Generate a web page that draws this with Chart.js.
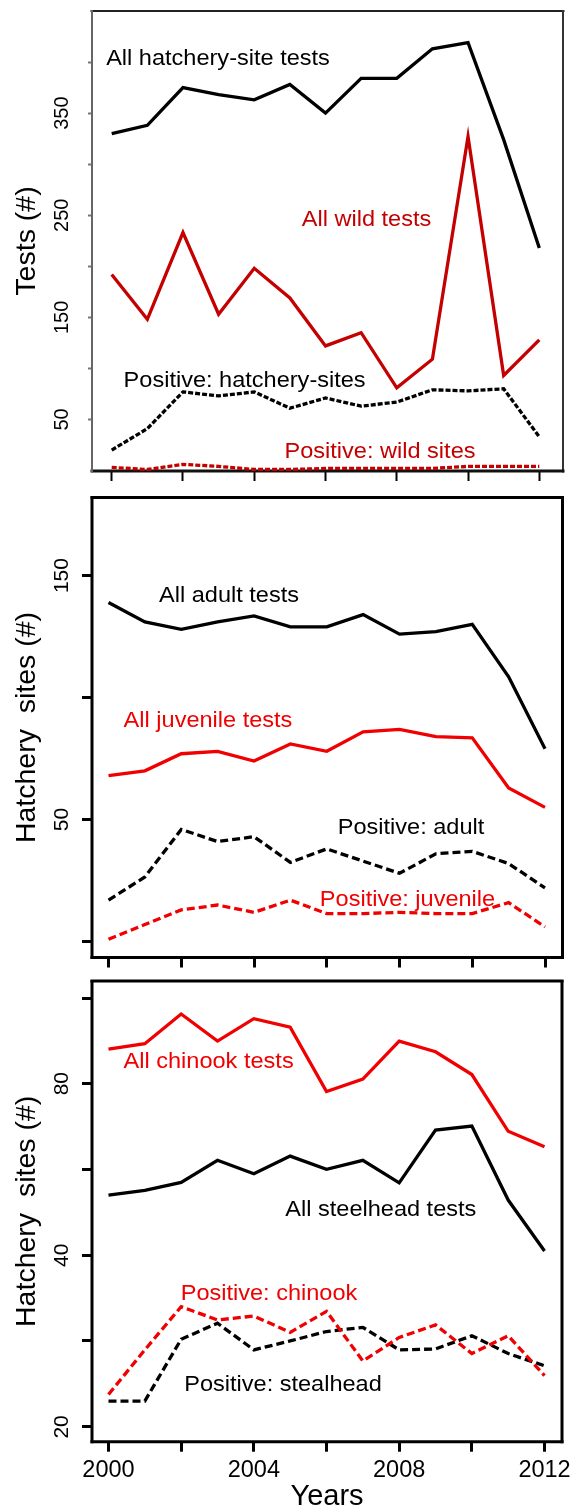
<!DOCTYPE html>
<html>
<head>
<meta charset="utf-8">
<script src="https://cdn.jsdelivr.net/npm/chart.js@4.4.1/dist/chart.umd.min.js"></script>
<style>
  html, body { margin: 0; padding: 0; background: #fff; }
  body { width: 573px; height: 1510px; position: relative; overflow: hidden; }
  .panel { position: absolute; left: 0; width: 573px; }
  canvas { display: block; }
</style>
</head>
<body>
<div class="panel" style="top:0px"><canvas id="testsChart" width="573" height="487"></canvas></div>
<div class="panel" style="top:487px"><canvas id="ageChart" width="573" height="485"></canvas></div>
<div class="panel" style="top:972px"><canvas id="speciesChart" width="573" height="538"></canvas></div>
<script>
const years = [2000, 2001, 2002, 2003, 2004, 2005, 2006, 2007, 2008, 2009, 2010, 2011, 2012];
const yearTicks = [2000, 2002, 2004, 2006, 2008, 2010, 2012];
const yearTickLabels = ['2000', '', '2004', '', '2008', '', '2012'];

// top panel: tests
const hatcheryTests = [330, 338, 375, 368, 363, 378, 350, 384, 384, 413, 419, 324, 218];
const wildTests = [192, 148, 233, 153, 198, 169, 122, 135, 81, 109, 327, 93, 128];
const hatcheryPositive = [20, 41, 77, 73, 77, 61, 71, 63, 67, 79, 78, 80, 33];
const wildPositive = [3, 1, 6, 4, 1, 1, 2, 2, 2, 2, 4, 4, 4];
const testsTicks = [50, 100, 150, 200, 250, 300, 350, 400];
const testsTickLabels = ['50', '', '150', '', '250', '', '350', ''];

// middle panel: adult / juvenile
const adultTests = [139, 131, 128, 131, 133.5, 129, 129, 134, 126, 127, 130, 108.5, 79];
const juvenileTests = [68, 70, 77, 78, 74, 81, 78, 86, 87, 84, 83.5, 63, 55];
const adultPositive = [17, 26.5, 46, 41, 43, 32.5, 38, 33, 28, 36, 37, 32, 22];
const juvenilePositive = [1, 7, 13, 15, 12, 17, 11.5, 11.5, 12, 11.5, 11.5, 16, 6];
const ageTicks = [0, 50, 100, 150];
const ageTickLabels = ['', '50', '', '150'];

// bottom panel: chinook / steelhead
const chinookTests = [92, 94, 106, 95, 104, 100.5, 77.5, 81.5, 95, 91, 83, 66, 62];
const steelheadTests = [51, 52, 53.7, 58.7, 55.6, 59.7, 56.6, 58.7, 53.6, 66.3, 67.4, 50, 40.7];
const chinookPositive = [22.8, 27.3, 32.5, 30.8, 31.3, 29.3, 31.9, 26.1, 28.7, 30.2, 26.9, 28.9, 24.6];
const steelheadPositive = [22.2, 22.2, 28.5, 30.4, 27.3, 28.3, 29.4, 29.9, 27.3, 27.4, 28.9, 26.9, 25.6];
const speciesTicks = [20, 28.3, 40, 56.6, 80, 113];
const speciesTickLabels = ['20', '', '40', '', '80', ''];

const FONT = "'Liberation Sans', Arial, Helvetica, sans-serif";
const DARK_RED = '#c40000';
const RED = '#f00000';

const pts = vals => years.map((yr, i) => ({ x: yr, y: vals[i] }));

function series(vals, color, dash) {
  return {
    data: pts(vals),
    borderColor: color,
    borderWidth: 3.3,
    borderDash: dash || [],
    pointRadius: 0,
    tension: 0,
    fill: false
  };
}

// frame round the plot area plus free text notes, both per panel
const panelDecor = {
  id: 'panelDecor',
  beforeDatasetsDraw(chart, args, opts) {
    const { ctx, chartArea: a } = chart;
    const s = opts.sides;
    ctx.save();
    ctx.lineCap = 'butt';
    const line = (side, x1, y1, x2, y2) => {
      ctx.beginPath();
      ctx.strokeStyle = side.color;
      ctx.lineWidth = side.width;
      ctx.moveTo(x1, y1);
      ctx.lineTo(x2, y2);
      ctx.stroke();
    };
    line(s.top, a.left - 1.5, a.top, a.right + 1.5, a.top);
    line(s.right, a.right, a.top - 1, a.right, a.bottom + 1.5);
    line(s.bottom, a.left - 1.5, a.bottom, a.right + 1.5, a.bottom);
    line(s.left, a.left, a.top - 1, a.left, a.bottom + 1.5);
    ctx.restore();
  },
  afterDatasetsDraw(chart, args, opts) {
    const { ctx } = chart;
    ctx.save();
    ctx.font = '22px ' + FONT;
    ctx.textAlign = 'center';
    ctx.textBaseline = 'middle';
    opts.notes.forEach(n => {
      ctx.save();
      ctx.fillStyle = n.color;
      ctx.translate(n.x, n.y - opts.top);
      ctx.scale(1.07, 1);
      ctx.fillText(n.text, 0, 0);
      ctx.restore();
    });
    ctx.restore();
  }
};

function noPad(s) {
  s.paddingTop = 0;
  s.paddingBottom = 0;
  s.paddingLeft = 0;
  s.paddingRight = 0;
}

function yearAxis(min, max, height, showLabels, tickWidth) {
  return {
    type: 'linear',
    position: 'bottom',
    min: min,
    max: max,
    afterBuildTicks: s => { s.ticks = yearTicks.map(v => ({ value: v })); },
    afterFit: s => { s.height = height; noPad(s); },
    border: { display: false },
    grid: { display: true, drawOnChartArea: false, drawTicks: true, tickLength: 10, tickWidth: tickWidth, tickColor: '#000' },
    ticks: {
      display: showLabels,
      autoSkip: false,
      maxRotation: 0,
      padding: 5,
      color: '#000',
      font: { family: FONT, size: 23.5 },
      callback: (v, i) => yearTickLabels[i]
    },
    title: {
      display: showLabels,
      text: 'Years',
      color: '#000',
      font: { family: FONT, size: 29, lineHeight: 0.9 },
      padding: { top: 0, bottom: 0 }
    }
  };
}

function valueAxis(o) {
  return {
    type: o.type || 'linear',
    position: 'left',
    min: o.min,
    max: o.max,
    afterBuildTicks: s => { s.ticks = o.ticks.map(v => ({ value: v })); },
    afterFit: s => { s.width = 92; noPad(s); },
    border: { display: false },
    grid: { display: true, drawOnChartArea: false, drawTicks: true, tickLength: o.tickLength, tickWidth: o.tickWidth, tickColor: o.tickColor },
    ticks: {
      autoSkip: false,
      minRotation: 90,
      maxRotation: 90,
      crossAlign: 'center',
      padding: o.labelPad,
      color: '#000',
      font: { family: FONT, size: o.labelSize },
      callback: (v, i) => o.labels[i]
    },
    title: {
      display: true,
      text: o.title,
      color: '#000',
      font: { family: FONT, size: 28.5 },
      padding: { top: 10, bottom: 0 }
    }
  };
}

function makePanel(id, cfg) {
  return new Chart(document.getElementById(id), {
    type: 'line',
    data: { datasets: cfg.datasets },
    options: {
      responsive: false,
      animation: false,
      events: [],
      layout: { padding: cfg.padding },
      plugins: {
        legend: { display: false },
        tooltip: { enabled: false },
        panelDecor: { sides: cfg.sides, notes: cfg.notes, top: cfg.top }
      },
      scales: { x: cfg.x, y: cfg.y }
    },
    plugins: [panelDecor]
  });
}

const thick = { color: '#000', width: 3 };

makePanel('testsChart', {
  top: 0,
  padding: { top: 11, right: 10, bottom: 0, left: 0 },
  datasets: [
    series(hatcheryTests, '#000'),
    series(wildTests, DARK_RED),
    series(hatcheryPositive, '#000', [5, 2]),
    series(wildPositive, DARK_RED, [5, 2])
  ],
  x: yearAxis(1999.447, 2012.665, 16, false, 2),
  y: valueAxis({
    min: -0.5, max: 450, ticks: testsTicks, labels: testsTickLabels,
    tickLength: 4, tickWidth: 2, tickColor: '#777', labelPad: 9, labelSize: 20,
    title: 'Tests (#)'
  }),
  sides: {
    top: { color: '#222', width: 2 },
    right: { color: '#333', width: 2 },
    bottom: { color: '#111', width: 3 },
    left: { color: '#666', width: 2 }
  },
  notes: [
    { text: 'All hatchery-site tests', x: 218, y: 59, color: '#000' },
    { text: 'All wild tests', x: 366.5, y: 220, color: DARK_RED },
    { text: 'Positive: hatchery-sites', x: 244.6, y: 381, color: '#000' },
    { text: 'Positive: wild sites', x: 380, y: 452, color: DARK_RED }
  ]
});

makePanel('ageChart', {
  top: 487,
  padding: { top: 10.5, right: 10.5, bottom: 0, left: 0 },
  datasets: [
    series(adultTests, '#000'),
    series(juvenileTests, RED),
    series(adultPositive, '#000', [8, 4]),
    series(juvenilePositive, RED, [8, 4])
  ],
  x: yearAxis(1999.546, 2012.481, 14.5, false, 3),
  y: valueAxis({
    min: -6.5, max: 182, ticks: ageTicks, labels: ageTickLabels,
    tickLength: 10, tickWidth: 3, tickColor: '#000', labelPad: 2, labelSize: 21,
    title: 'Hatchery  sites (#)'
  }),
  sides: { top: thick, right: thick, bottom: thick, left: thick },
  notes: [
    { text: 'All adult tests', x: 229, y: 596, color: '#000' },
    { text: 'All juvenile tests', x: 208, y: 721, color: RED },
    { text: 'Positive: adult', x: 411, y: 828, color: '#000' },
    { text: 'Positive: juvenile', x: 407.5, y: 900, color: RED }
  ]
});

makePanel('speciesChart', {
  top: 972,
  padding: { top: 9, right: 11, bottom: 0, left: 0 },
  datasets: [
    series(chinookTests, RED),
    series(steelheadTests, '#000'),
    series(chinookPositive, RED, [8, 4]),
    series(steelheadPositive, '#000', [8, 4])
  ],
  x: yearAxis(1999.546, 2012.481, 68.3, true, 3),
  y: valueAxis({
    type: 'logarithmic',
    min: 18.84, max: 121.1, ticks: speciesTicks, labels: speciesTickLabels,
    tickLength: 10, tickWidth: 3, tickColor: '#000', labelPad: 8, labelSize: 21,
    title: 'Hatchery  sites (#)'
  }),
  sides: { top: thick, right: thick, bottom: thick, left: thick },
  notes: [
    { text: 'All chinook tests', x: 208.6, y: 1061.5, color: RED },
    { text: 'All steelhead tests', x: 380.8, y: 1210.4, color: '#000' },
    { text: 'Positive: chinook', x: 269, y: 1294.3, color: RED },
    { text: 'Positive: stealhead', x: 283, y: 1385, color: '#000' }
  ]
});
</script>
</body>
</html>
